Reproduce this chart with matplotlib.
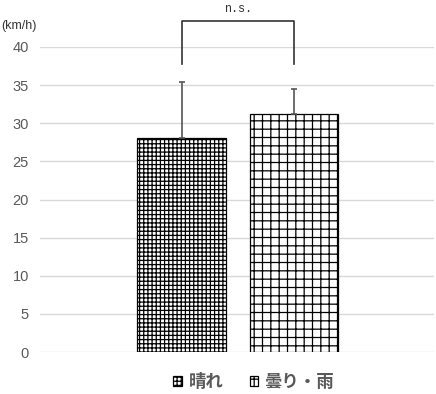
import matplotlib.pyplot as plt

# data
categories = ["晴れ", "曇り・雨"]
means = [28.1, 31.2]
sd = [7.3, 3.3]
hatches = ["++++", "++"]
sig_label = "n.s."
yticks = [0, 5, 10, 15, 20, 25, 30, 35, 40]

plt.rcParams["font.family"] = ["Noto Sans CJK JP", "DejaVu Sans"]
plt.rcParams["hatch.linewidth"] = 0.9

fig = plt.figure(figsize=(4.36, 3.94), dpi=100)
ax = fig.add_axes([40 / 436, 1 - 352 / 394, 394 / 436, 305 / 394])

x = [0, 1]
for i in range(len(categories)):
    ax.bar(x[i], means[i], width=0.79, color="white", edgecolor="black",
           hatch=hatches[i], linewidth=0.9, label=categories[i], zorder=2)
    ax.errorbar(x[i], means[i], yerr=[[0], [sd[i]]], fmt="none",
                ecolor="#555555", elinewidth=1.2, capsize=2, capthick=1.2,
                zorder=3, clip_on=False)

# significance bracket
top = 43.4
ax.plot([x[0], x[0], x[1], x[1]], [37.8, top, top, 37.8], color="#333333",
        linewidth=1.2, clip_on=False, zorder=3)
ax.text((x[0] + x[1]) / 2, 45.0, sig_label, ha="center", va="center",
        fontsize=8.5, family="Liberation Mono", color="#333333")

ax.set_xlim(-1.258, 2.244)
ax.set_ylim(0, 40)
ax.set_yticks(yticks)
ax.set_xticks([])
ax.tick_params(axis="y", length=0, pad=8, labelsize=10.5, labelcolor="#595959")
for lab in ax.get_yticklabels():
    lab.set_family("Liberation Sans")
ax.yaxis.grid(True, color="#d9d9d9", linewidth=1.0)
ax.set_axisbelow(True)
for s in ax.spines.values():
    s.set_visible(False)

fig.text(1 / 436, 1 - 26 / 394, "(km/h)", ha="left", va="center",
         fontsize=9, color="#333333", family="Liberation Sans")

leg = fig.legend(loc="center", bbox_to_anchor=(254 / 436, 1 - 382 / 394),
                 ncol=2, frameon=False, handlelength=0.5, handleheight=0.5,
                 handletextpad=0.4, columnspacing=1.5,
                 prop={"size": 12.5, "weight": "bold"})
for t in leg.get_texts():
    t.set_color("#595959")

fig.savefig("out.png", dpi=100)
